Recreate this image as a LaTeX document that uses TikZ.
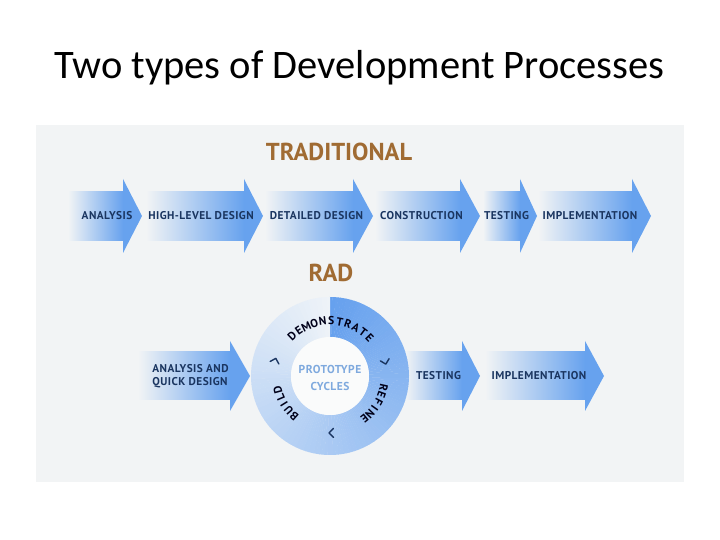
\documentclass[tikz,border=0pt]{standalone}
\usepackage{fontspec}
\setmainfont{Carlito}
\newfontfamily\labelfont[LetterSpace=4]{PT Sans}
\newfontfamily\headfont{PT Sans}
\definecolor{panel}{HTML}{F2F4F5}
\definecolor{arrowblue}{HTML}{67A2EE}
\definecolor{ringblue}{HTML}{65A0EE}
\definecolor{ringpale}{HTML}{EEF3F8}
\definecolor{labelnavy}{HTML}{1A3560}
\definecolor{headbrown}{HTML}{A06B33}
\definecolor{protoblue}{HTML}{7EA9DE}

\begin{document}
\begin{tikzpicture}[x=1pt,y=1pt,
  steplabel/.style={font=\labelfont\bfseries\fontsize{11.3}{13}\selectfont,text=labelnavy,inner sep=0pt,align=left},
  heading/.style={font=\headfont\bfseries\fontsize{24.5}{28}\selectfont,text=headbrown,inner sep=0pt,anchor=base},
  ringletter/.style={font=\headfont\bfseries\fontsize{11.5}{12}\selectfont,text=black!90!blue,inner sep=0pt},
  chevron/.style={draw=labelnavy,line width=1.4pt,line cap=round,line join=round}]
  \useasboundingbox (0,0) rectangle (720,540);
  \node[font=\fontsize{40.5}{46}\selectfont,anchor=base] (title) at (359.5,461) {Two types of Development Processes};
  \fill[panel] (36,58) rectangle (684,415);
  \node[heading] (trad) at (339,379) {TRADITIONAL};
  \node[heading] (rad) at (331,258) {RAD};

  \foreach \s/\b/\t/\x/\lab [count=\i] in {68/123/142/107/ANALYSIS,146/244/263/201/HIGH-LEVEL DESIGN,
      265/353/373/316.5/DETAILED DESIGN,375/460/480/421.5/CONSTRUCTION,483/520/537/506.5/TESTING,
      538/632/651/590/IMPLEMENTATION}{
    \shade[left color=panel,right color=arrowblue] (\s,299.5) rectangle (\b,348.5);
    \fill[arrowblue] (\b,287) -- (\t,324) -- (\b,361) -- cycle;
    \node[steplabel] (trad\i) at (\x,324) {\lab};
  }
  \foreach \s/\b/\t/\x/\lab [count=\i] in {138/230/250/190.5/{ANALYSIS AND\\QUICK DESIGN},
      405/462/480/438.5/TESTING,485/585/604/539/IMPLEMENTATION}{
    \shade[left color=panel,right color=arrowblue] (\s,140) rectangle (\b,188);
    \fill[arrowblue] (\b,129) -- (\t,164) -- (\b,199) -- cycle;
    \node[steplabel] (rad\i) at (\x,164) {\lab};
  }

  \coordinate (ring) at (330,164);
  \foreach \a in {0,2,...,358}{
    \pgfmathtruncatemacro\m{100-\a/3.6}
    \fill[ringblue!\m!ringpale,shift={(ring)}] (90.3-\a:79) arc[start angle=90.3-\a,delta angle=-2.3,radius=79]
      -- (88-\a:39) arc[start angle=88-\a,delta angle=2.3,radius=39] -- cycle;
  }
  \fill[white!60!panel] (ring) circle[radius=39];
  \node[font=\labelfont\bfseries\fontsize{11.5}{17}\selectfont,text=protoblue,align=center] (proto) at (330,162) {PROTOTYPE\\CYCLES};

  \foreach \ch [count=\k] in {D,E,M,O,N,S,T,R,A,T,E}{
    \pgfmathsetmacro\ang{133.5-(\k-1)*8.95}
    \node[ringletter,rotate=\ang-90] (dem\k) at ([shift={(\ang:55)}]ring) {\ch};
  }
  \foreach \ch [count=\k] in {R,E,F,I,N,E}{
    \pgfmathsetmacro\ang{-12.5-(\k-1)*7.7}
    \node[ringletter,rotate=\ang-90] (ref\k) at ([shift={(\ang:55)}]ring) {\ch};
  }
  \foreach \ch [count=\k] in {B,U,I,L,D}{
    \pgfmathsetmacro\ang{228.5-(\k-1)*8.4}
    \node[ringletter,rotate=\ang-90] (bld\k) at ([shift={(\ang:54)}]ring) {\ch};
  }
  \foreach \ang in {164,14,271}
    \draw[chevron,shift={(ring)},rotate=\ang-90] (-2.5,61.5) -- (2,57) -- (-2.5,52.5);
\end{tikzpicture}
\end{document}
